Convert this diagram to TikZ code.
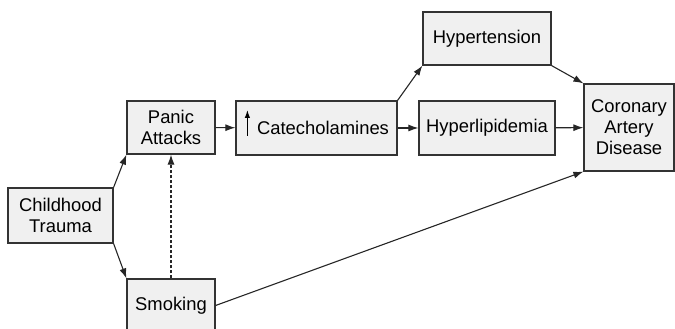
\documentclass[tikz,border=0pt]{standalone}
\usepackage{fontspec}
\setmainfont{Liberation Sans}
\usetikzlibrary{arrows.meta}

\tikzset{
    factor/.style={draw=black!80, fill=black!6, line width=1.2pt, inner sep=0pt, align=center, font=\fontsize{18.4}{21}\selectfont},
    link/.style={line width=1.1pt, draw=black!85, -{Latex[length=10pt, width=7pt]}}
}

\begin{document}
\begin{tikzpicture}[x=1pt, y=1pt]
    \useasboundingbox (0,0) rectangle (675,329); % This fixes the page size
    \node [factor, minimum width=105, minimum height=55] (trauma) at (60.5,113.5) {Childhood\\Trauma}; % This draws the first cause
    \node [factor, minimum width=88, minimum height=53] (panic) at (171,201.5) {Panic\\Attacks}; % This draws the upper middle box
    \node [factor, minimum width=88, minimum height=53] (smoking) at (171,23.5) {Smoking}; % This draws the lower box, cut by the page
    \node [factor, minimum width=161, minimum height=54] (catechol) at (316.5,201) {\hspace{13pt}Catecholamines}; % This draws the box that holds the up arrow
    \node [factor, minimum width=136, minimum height=54] (lipid) at (487,201) {Hyperlipidemia}; % This draws the middle right box
    \node [factor, minimum width=128, minimum height=53] (tension) at (487,290.5) {Hypertension}; % This draws the top box
    \node [factor, minimum width=90, minimum height=87] (cad) at (629,201.5) {Coronary\\Artery\\Disease}; % This draws the outcome

    \draw [line width=1.1pt, -{Latex[length=8pt, width=5.5pt]}] ([shift={(12,-8)}]catechol.west) -- ++(0,26); % This draws the up arrow before the word

    \draw [link] (trauma.north east) -- (panic.south west); % This draws trauma to panic
    \draw [link] (trauma.south east) -- (smoking.north west); % This draws trauma to smoking
    \draw [link, dash pattern=on 3pt off 2pt] (smoking.north) -- (panic.south); % This draws the dotted link
    \draw [link] (panic) -- (catechol); % This draws panic to catecholamines
    \draw [link] (catechol.north east) -- (tension.south west); % This draws catecholamines to hypertension
    \draw [link] (catechol) -- (lipid); % This draws catecholamines to hyperlipidemia
    \draw [link] (tension.south east) -- (cad.north west); % This draws hypertension to the outcome
    \draw [link] (lipid) -- (cad); % This draws hyperlipidemia to the outcome
    \draw [link] (smoking.east) -- (cad.south west); % This draws smoking to the outcome
\end{tikzpicture}
\end{document}
